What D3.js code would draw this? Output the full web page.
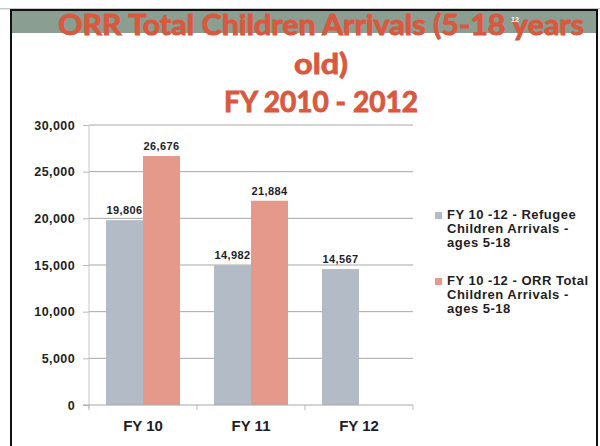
<!DOCTYPE html>
<html>
<head>
<meta charset="utf-8">
<script src="https://cdn.jsdelivr.net/npm/d3@7"></script>
<style>
  body { margin: 0; background: #fff; }
  svg { display: block; }
</style>
</head>
<body>
<svg id="chart" width="600" height="446"></svg>
<script>
// data
const categories = ["FY 10", "FY 11", "FY 12"];
const seriesNames = [
    "FY 10 -12 - Refugee Children Arrivals - ages 5-18",
    "FY 10 -12 - ORR Total Children Arrivals - ages 5-18"
];
const refugeeValues = [19806, 14982, 14567];
const orrTotalValues = [26676, 21884, null];
const yTicks = [0, 5000, 10000, 15000, 20000, 25000, 30000];
const titleLines = ["ORR Total Children Arrivals (5-18 years", "old)", "FY 2010 - 2012"];
const legendLines = [
    ["FY 10 -12 - Refugee", "Children Arrivals -", "ages 5-18"],
    ["FY 10 -12 - ORR Total", "Children Arrivals -", "ages 5-18"]
];

const colors = ["#b3bcc6", "#e4998a"];
const svg = d3.select("#chart");

const rows = categories.map((cat, i) => ({
    cat,
    values: [refugeeValues[i], orrTotalValues[i]]
}));

// slide frame and header band
svg.append("rect")
    .attr("x", 0).attr("y", 8).attr("width", 600).attr("height", 1.5)
    .attr("fill", "#c8c8c8");
svg.append("rect")
    .attr("x", 12).attr("y", 11).attr("width", 584).attr("height", 22)
    .attr("fill", "#8b9e92");
svg.append("rect")
    .attr("x", 11).attr("y", 10).attr("width", 586).attr("height", 450)
    .attr("fill", "none")
    .attr("stroke", "#111")
    .attr("stroke-width", 2);

// title
const titleY = [35, 74, 112];
const titleW = [526, 54, 194];
svg.append("g")
    .selectAll("text")
    .data(titleLines)
    .join("text")
    .attr("x", 321)
    .attr("y", (d, i) => titleY[i])
    .attr("text-anchor", "middle")
    .attr("font-family", "Lato, 'Open Sans', sans-serif")
    .attr("font-weight", "bold")
    .attr("font-size", 29)
    .attr("fill", "#d9583e")
    .attr("stroke", "#d9583e")
    .attr("stroke-width", 0.9)
    .attr("textLength", (d, i) => titleW[i])
    .attr("lengthAdjust", "spacingAndGlyphs")
    .text(d => d);

// slide number sits on top of the title, as on the slide
svg.append("text")
    .attr("x", 515).attr("y", 22)
    .attr("text-anchor", "middle")
    .attr("font-family", "Liberation Sans, Arial, sans-serif")
    .attr("font-size", 7)
    .attr("font-weight", "bold")
    .attr("fill", "#fff")
    .text("12");

// scales
const plot = { left: 89, right: 413, top: 125, bottom: 405 };

const x0 = d3.scaleBand()
    .domain(categories)
    .range([plot.left, plot.right])
    .padding(0);

const x1 = d3.scaleBand()
    .domain([0, 1])
    .range([0, x0.bandwidth()])
    .paddingInner(0)
    .paddingOuter(0.46);

const y = d3.scaleLinear()
    .domain([0, 30000])
    .range([plot.bottom, plot.top]);

// gridlines
svg.append("g")
    .selectAll("line")
    .data(yTicks.filter(t => t > 0))
    .join("line")
    .attr("x1", plot.left)
    .attr("x2", plot.right)
    .attr("y1", d => y(d))
    .attr("y2", d => y(d))
    .attr("stroke", "#a6a6a6")
    .attr("stroke-width", 1);

// y axis
const yAxis = svg.append("g")
    .attr("transform", `translate(${plot.left},0)`)
    .call(d3.axisLeft(y).tickValues(yTicks).tickSize(6).tickPadding(8).tickFormat(d3.format(",")));
yAxis.select(".domain").attr("stroke", "#c8c8c8").attr("d", `M0,${plot.top}V${plot.bottom + 3}`);
yAxis.selectAll(".tick line").attr("stroke", "#b8b8b8");
yAxis.selectAll(".tick text")
    .attr("font-family", "Liberation Sans, Arial, sans-serif")
    .attr("font-weight", "bold")
    .attr("font-size", 12.5)
    .attr("letter-spacing", 0.4)
    .attr("fill", "#1e1e24");

// bars
const groups = svg.append("g")
    .selectAll("g")
    .data(rows)
    .join("g")
    .attr("transform", d => `translate(${x0(d.cat)},0)`);

groups.selectAll("rect")
    .data(d => d.values.map((v, i) => ({ v, i })).filter(e => e.v != null))
    .join("rect")
    .attr("x", d => x1(d.i))
    .attr("width", x1.bandwidth())
    .attr("y", d => y(d.v))
    .attr("height", d => y(0) - y(d.v))
    .attr("fill", d => colors[d.i]);

groups.selectAll("text")
    .data(d => d.values.map((v, i) => ({ v, i })).filter(e => e.v != null))
    .join("text")
    .attr("x", d => x1(d.i) + x1.bandwidth() / 2)
    .attr("y", d => y(d.v) - 6)
    .attr("text-anchor", "middle")
    .attr("font-family", "Liberation Sans, Arial, sans-serif")
    .attr("font-weight", "bold")
    .attr("font-size", 11)
    .attr("letter-spacing", 0.4)
    .attr("fill", "#1e1e2a")
    .text(d => d3.format(",")(d.v));

// x axis
const xAxis = svg.append("g")
    .attr("transform", `translate(0,${plot.bottom})`)
    .call(d3.axisBottom(x0).tickSize(0).tickPadding(15));
xAxis.select(".domain").attr("stroke", "#a6a6a6").attr("d", `M${plot.left - 6},0H${plot.right}`);
xAxis.selectAll(".tick text")
    .attr("font-family", "Liberation Sans, Arial, sans-serif")
    .attr("font-weight", "bold")
    .attr("font-size", 15)
    .attr("fill", "#1e1e24");

const edges = categories.map(c => x0(c)).concat([plot.right]);
xAxis.append("g")
    .selectAll("line")
    .data(edges)
    .join("line")
    .attr("x1", d => d)
    .attr("x2", d => d)
    .attr("y1", 0)
    .attr("y2", 5)
    .attr("stroke", "#b8b8b8");

// legend
const legend = svg.append("g")
    .selectAll("g")
    .data(seriesNames)
    .join("g")
    .attr("transform", (d, i) => `translate(435,${219 + i * 66})`);

legend.append("rect")
    .attr("x", 0)
    .attr("y", -7)
    .attr("width", 7)
    .attr("height", 7)
    .attr("fill", (d, i) => colors[i]);

legend.append("text")
    .attr("font-family", "Liberation Sans, Arial, sans-serif")
    .attr("font-size", 13)
    .attr("font-weight", "bold")
    .attr("letter-spacing", 0.5)
    .attr("fill", "#1e1e24")
    .selectAll("tspan")
    .data((d, i) => legendLines[i])
    .join("tspan")
    .attr("x", 12)
    .attr("y", (d, j) => j * 14)
    .text(d => d);
</script>
</body>
</html>
